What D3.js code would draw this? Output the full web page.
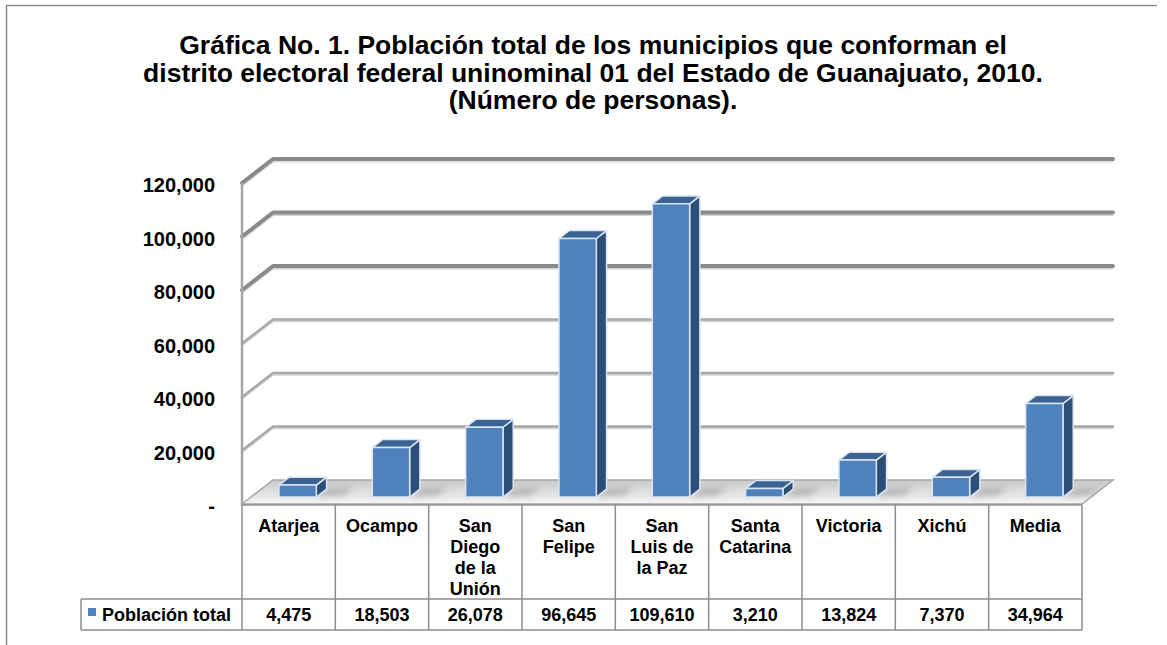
<!DOCTYPE html>
<html>
<head>
<meta charset="utf-8">
<script src="https://cdn.jsdelivr.net/npm/d3@7/dist/d3.min.js"></script>
<style>
  html, body { margin: 0; padding: 0; background: #fff; }
  svg { display: block; }
  text { font-family: "Liberation Sans", Arial, sans-serif; font-weight: bold; fill: #000; }
</style>
</head>
<body>
<svg id="chart" width="1167" height="645"></svg>
<script>
// ---- data ----
const titleLines = [
  "Gráfica No. 1. Población total de los municipios que conforman el",
  "distrito electoral federal uninominal 01 del Estado de Guanajuato, 2010.",
  "(Número de personas)."
];
const categories = ["Atarjea", "Ocampo", "San Diego de la Unión", "San Felipe", "San Luis de la Paz", "Santa Catarina", "Victoria", "Xichú", "Media"];
const categoryLines = [["Atarjea"], ["Ocampo"], ["San", "Diego", "de la", "Unión"], ["San", "Felipe"], ["San", "Luis de", "la Paz"], ["Santa", "Catarina"], ["Victoria"], ["Xichú"], ["Media"]];
const seriesName = "Población total";
const values = [4475, 18503, 26078, 96645, 109610, 3210, 13824, 7370, 34964];
const yTicks = [0, 20000, 40000, 60000, 80000, 100000, 120000];
const yTickLabels = ["-", "20,000", "40,000", "60,000", "80,000", "100,000", "120,000"];

// ---- layout ----
const svg = d3.select("#chart");
const left = 242, right = 1082, floorY = 504, topY = 183;
const DX = 31, DY = 24;           // depth offset of the back wall
const z0 = 0.29, z1 = 0.62;       // bar depth range
const tableTop = 505, tableMid = 599, tableBot = 630, legendLeft = 81;
const blue = "#4f81bd", blueSide = "#2d4e77", blueTop = "#3a6292";

const x = d3.scaleBand().domain(categories).range([left, right]);
const xb = d3.scaleBand().domain(categories).range([left, right]).paddingInner(0.6).paddingOuter(0.3);
const y = d3.scaleLinear().domain([0, 120000]).range([floorY, topY]);

const defs = svg.append("defs");
const fg = defs.append("linearGradient").attr("id", "floorGrad").attr("x1", 0).attr("y1", 0).attr("x2", 0).attr("y2", 1);
fg.append("stop").attr("offset", "0%").attr("stop-color", "#c9c9c9");
fg.append("stop").attr("offset", "100%").attr("stop-color", "#f6f6f6");
defs.append("filter").attr("id", "blur").attr("x", "-50%").attr("y", "-50%").attr("width", "200%").attr("height", "200%")
  .append("feGaussianBlur").attr("stdDeviation", 3);

// outer frame (top and left edges visible)
svg.append("line").attr("x1", 6).attr("y1", 5.5).attr("x2", 1157).attr("y2", 5.5).attr("stroke", "#8c8c8c").attr("stroke-width", 1.5);
svg.append("line").attr("x1", 6.5).attr("y1", 5).attr("x2", 6.5).attr("y2", 645).attr("stroke", "#8c8c8c").attr("stroke-width", 1.5);

// title
svg.append("g").selectAll("text").data(titleLines).join("text")
  .attr("x", 593).attr("y", (d, i) => 54 + i * 27.5)
  .attr("text-anchor", "middle").attr("font-size", 26.5).text(d => d);

// floor
const floorPts = [[left, floorY], [left + DX, floorY - DY], [right + DX, floorY - DY], [right, floorY]];
svg.append("polygon").attr("points", floorPts.map(p => p.join(",")).join(" "))
  .attr("fill", "url(#floorGrad)").attr("stroke", "#a6a6a6").attr("stroke-width", 1.5);

// gridlines on back wall + left wall
const gridColor = v => v >= 80000 ? "#8a8a8a" : "#a8a8a8";
const gridWidth = v => v >= 80000 ? 4 : 2.5;
const grid = svg.append("g");
yTicks.filter(v => v > 0).forEach(v => {
  const yy = y(v);
  grid.append("polyline")
    .attr("points", `${left},${yy} ${left + DX},${yy - DY} ${right + DX},${yy - DY}`)
    .attr("fill", "none").attr("stroke", "#d6d6d6").attr("stroke-width", gridWidth(v))
    .attr("transform", "translate(0,1.5)");
  grid.append("polyline")
    .attr("points", `${left},${yy} ${left + DX},${yy - DY} ${right + DX},${yy - DY}`)
    .attr("fill", "none").attr("stroke", gridColor(v)).attr("stroke-width", gridWidth(v))
    .attr("stroke-linecap", "round").attr("stroke-linejoin", "round");
});
// left wall vertical
svg.append("line").attr("x1", left).attr("y1", y(120000)).attr("x2", left).attr("y2", floorY)
  .attr("stroke", "#a6a6a6").attr("stroke-width", 2.5);

// bar shadows on floor
const shadows = svg.append("g").attr("filter", "url(#blur)");
categories.forEach((c, i) => {
  const bw = xb.bandwidth();
  const x0 = xb(c) + z0 * DX, x1 = x0 + bw;
  const yb = y(0);
  shadows.append("polygon")
    .attr("points", [
      [x1, yb - z0 * DY], [x1 + 28, yb - z0 * DY - 2], [x1 + 38, yb - z1 * DY - 2], [x1 + (z1 - z0) * DX, yb - z1 * DY]
    ].map(p => p.join(",")).join(" "))
    .attr("fill", "#8f8f8f").attr("opacity", 0.55);
});

// bars
const bars = svg.append("g");
categories.forEach((c, i) => {
  const v = values[i];
  const bw = xb.bandwidth();
  const x0 = xb(c) + z0 * DX, x1 = x0 + bw;
  const yt = y(v) - z0 * DY, yb = y(0) - z0 * DY;
  const ddx = (z1 - z0) * DX, ddy = (z1 - z0) * DY;
  const g = bars.append("g").attr("stroke", "#dbe5f1").attr("stroke-width", 1.5).attr("stroke-linejoin", "round");
  g.append("polygon").attr("points", [[x1, yt], [x1 + ddx, yt - ddy], [x1 + ddx, yb - ddy], [x1, yb]].map(p => p.join(",")).join(" "))
    .attr("fill", blueSide);
  g.append("polygon").attr("points", [[x0, yt], [x0 + ddx, yt - ddy], [x1 + ddx, yt - ddy], [x1, yt]].map(p => p.join(",")).join(" "))
    .attr("fill", blueTop);
  g.append("rect").attr("x", x0).attr("y", yt).attr("width", bw).attr("height", yb - yt).attr("fill", blue);
});

// y axis labels
svg.append("g").selectAll("text").data(yTicks).join("text")
  .attr("x", 215).attr("y", (d, i) => y(d) + 9)
  .attr("text-anchor", "end").attr("font-size", 20)
  .text((d, i) => yTickLabels[i]);

// data table
const tbl = svg.append("g").attr("stroke", "#8c8c8c").attr("stroke-width", 1.5).attr("fill", "none");
tbl.append("line").attr("x1", left).attr("y1", tableTop).attr("x2", right).attr("y2", tableTop);
tbl.append("line").attr("x1", legendLeft).attr("y1", tableMid).attr("x2", right).attr("y2", tableMid);
tbl.append("line").attr("x1", legendLeft).attr("y1", tableBot).attr("x2", right).attr("y2", tableBot);
tbl.append("line").attr("x1", legendLeft).attr("y1", tableMid).attr("x2", legendLeft).attr("y2", tableBot);
categories.concat([null]).forEach((c, i) => {
  const xx = c === null ? right : x(c);
  tbl.append("line").attr("x1", xx).attr("y1", tableTop).attr("x2", xx).attr("y2", tableBot);
});

const fmt = d3.format(",");
const cells = svg.append("g");
categories.forEach((c, i) => {
  const cx = x(c) + x.bandwidth() / 2;
  cells.append("text").attr("x", cx).attr("y", 532).attr("text-anchor", "middle").attr("font-size", 18)
    .selectAll("tspan").data(categoryLines[i]).join("tspan")
    .attr("x", cx).attr("dy", (d, j) => j === 0 ? 0 : 21).text(d => d);
  cells.append("text").attr("x", cx).attr("y", 621).attr("text-anchor", "middle").attr("font-size", 18)
    .text(fmt(values[i]));
});

// legend key
svg.append("rect").attr("x", 88).attr("y", 608).attr("width", 8).attr("height", 8).attr("fill", blue);
svg.append("text").attr("x", 102).attr("y", 621).attr("font-size", 18).text(seriesName);
</script>
</body>
</html>
